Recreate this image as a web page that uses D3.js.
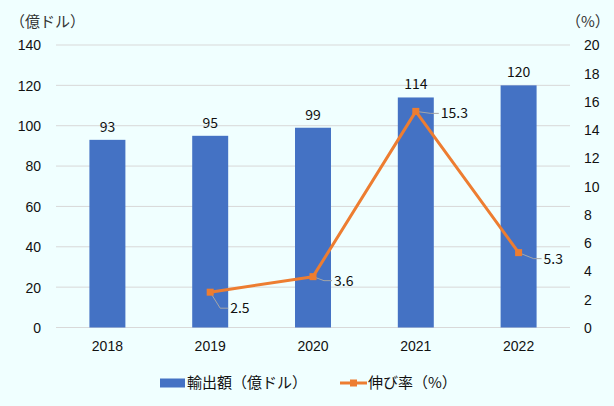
<!DOCTYPE html>
<html>
<head>
<meta charset="utf-8">
<script src="https://cdn.jsdelivr.net/npm/d3@7"></script>
<style>
  html, body { margin: 0; padding: 0; background: #F0FFFF; }
  svg { display: block; font-family: "Noto Sans CJK JP", "Noto Sans", sans-serif; }
</style>
</head>
<body>
<div id="chart"></div>
<script>
// data
const years = ["2018", "2019", "2020", "2021", "2022"];
const exportValues = [93, 95, 99, 114, 120];
const growthRates = [null, 2.5, 3.6, 15.3, 5.3];
const leftTicks = [0, 20, 40, 60, 80, 100, 120, 140];
const rightTicks = [0, 2, 4, 6, 8, 10, 12, 14, 16, 18, 20];

// label placement for the growth-rate labels (dx, dy from the marker)
const labelOffsets = [null, [20, 16], [21, 4], [25, 2], [25, 6]];

const W = 614, H = 406;
const plot = { left: 56, right: 570, top: 45, bottom: 327.5 };
const numSize = "14px";
const jpSize = "15px";

const svg = d3.select("#chart").append("svg")
    .attr("width", W)
    .attr("height", H);

const x = d3.scaleBand()
    .domain(years)
    .range([plot.left, plot.right])
    .paddingInner(0.65)
    .paddingOuter(0.325);

const yL = d3.scaleLinear().domain([0, 140]).range([plot.bottom, plot.top]);
const yR = d3.scaleLinear().domain([0, 20]).range([plot.bottom, plot.top]);

const textColor = "#111";

// gridlines
svg.append("g")
    .selectAll("line")
    .data(leftTicks)
    .enter().append("line")
    .attr("x1", plot.left)
    .attr("x2", plot.right)
    .attr("y1", d => yL(d))
    .attr("y2", d => yL(d))
    .attr("stroke", "#D9D9D9")
    .attr("stroke-width", 1);

// left axis
const leftAxis = svg.append("g")
    .attr("transform", `translate(${plot.left - 15},0)`)
    .call(d3.axisLeft(yL).tickValues(leftTicks).tickSize(0).tickPadding(0));
leftAxis.select(".domain").remove();
leftAxis.selectAll("text")
    .attr("fill", textColor)
    .style("font-size", numSize)
    .attr("dy", "0.35em");

// right axis
const rightAxis = svg.append("g")
    .attr("transform", `translate(${plot.right + 14},0)`)
    .call(d3.axisRight(yR).tickValues(rightTicks).tickSize(0).tickPadding(0));
rightAxis.select(".domain").remove();
rightAxis.selectAll("text")
    .attr("fill", textColor)
    .style("font-size", numSize)
    .attr("dy", "0.35em");

// bottom axis
const bottomAxis = svg.append("g")
    .attr("transform", `translate(0,${plot.bottom})`)
    .call(d3.axisBottom(x).tickSize(0).tickPadding(14));
bottomAxis.select(".domain").remove();
bottomAxis.selectAll("text")
    .attr("fill", textColor)
    .style("font-size", numSize);

// axis titles
svg.append("text")
    .attr("x", 10)
    .attr("y", 27)
    .attr("fill", "#333")
    .style("font-size", jpSize)
    .text("（億ドル）");

svg.append("text")
    .attr("x", 566)
    .attr("y", 27)
    .attr("fill", "#333")
    .style("font-size", jpSize)
    .text("（%）");

// bars
svg.append("g")
    .selectAll("rect")
    .data(exportValues)
    .enter().append("rect")
    .attr("x", (d, i) => x(years[i]))
    .attr("y", d => yL(d))
    .attr("width", x.bandwidth())
    .attr("height", d => yL(0) - yL(d))
    .attr("fill", "#4472C4");

// bar labels
svg.append("g")
    .selectAll("text")
    .data(exportValues)
    .enter().append("text")
    .attr("x", (d, i) => x(years[i]) + x.bandwidth() / 2)
    .attr("y", d => yL(d) - 8)
    .attr("text-anchor", "middle")
    .attr("fill", textColor)
    .style("font-size", numSize)
    .text(d => d);

// growth line
const lineData = growthRates
    .map((v, i) => ({ year: years[i], value: v, off: labelOffsets[i] }))
    .filter(d => d.value !== null);

const cx = d => x(d.year) + x.bandwidth() / 2;

// leader lines
svg.append("g")
    .selectAll("polyline")
    .data(lineData)
    .enter().append("polyline")
    .attr("points", d => {
        const x0 = cx(d), y0 = yR(d.value);
        const x2 = x0 + d.off[0] - 2, y2 = y0 + d.off[1];
        const x1 = x2 - 8;
        return `${x0},${y0} ${x1},${y2} ${x2},${y2}`;
    })
    .attr("fill", "none")
    .attr("stroke", "#A6A6A6")
    .attr("stroke-width", 1);

const line = d3.line()
    .x(d => cx(d))
    .y(d => yR(d.value));

svg.append("path")
    .datum(lineData)
    .attr("fill", "none")
    .attr("stroke", "#ED7D31")
    .attr("stroke-width", 3)
    .attr("stroke-linejoin", "round")
    .attr("d", line);

svg.append("g")
    .selectAll("rect")
    .data(lineData)
    .enter().append("rect")
    .attr("x", d => cx(d) - 3.5)
    .attr("y", d => yR(d.value) - 3.5)
    .attr("width", 7)
    .attr("height", 7)
    .attr("fill", "#ED7D31");

// line labels
svg.append("g")
    .selectAll("text")
    .data(lineData)
    .enter().append("text")
    .attr("x", d => cx(d) + d.off[0])
    .attr("y", d => yR(d.value) + d.off[1])
    .attr("dy", "0.35em")
    .attr("fill", textColor)
    .style("font-size", numSize)
    .text(d => d.value.toFixed(1));

// legend
const legend = svg.append("g").attr("transform", "translate(0,383)");

legend.append("rect")
    .attr("x", 160)
    .attr("y", -4.5)
    .attr("width", 25)
    .attr("height", 9)
    .attr("fill", "#4472C4");

legend.append("text")
    .attr("x", 187)
    .attr("dy", "0.35em")
    .attr("fill", textColor)
    .style("font-size", jpSize)
    .text("輸出額（億ドル）");

legend.append("line")
    .attr("x1", 340)
    .attr("x2", 367)
    .attr("stroke", "#ED7D31")
    .attr("stroke-width", 3);

legend.append("rect")
    .attr("x", 350)
    .attr("y", -3.5)
    .attr("width", 7)
    .attr("height", 7)
    .attr("fill", "#ED7D31");

legend.append("text")
    .attr("x", 368)
    .attr("dy", "0.35em")
    .attr("fill", textColor)
    .style("font-size", jpSize)
    .text("伸び率（%）");
</script>
</body>
</html>
